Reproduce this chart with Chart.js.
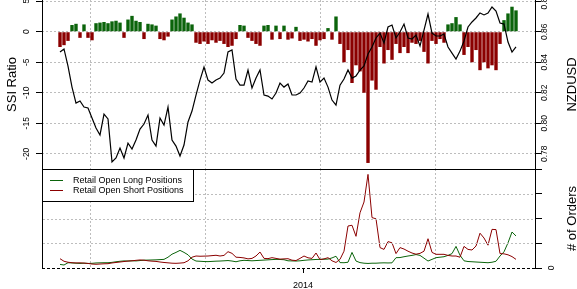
<!DOCTYPE html>
<html>
<head>
<meta charset="utf-8">
<script src="https://cdn.jsdelivr.net/npm/chart.js@4.4.1/dist/chart.umd.min.js"></script>
<style>
  html, body { margin: 0; padding: 0; background: #fff; }
  #wrap { position: relative; width: 577px; height: 289px; }
  #top { position: absolute; left: 0; top: 0; }
  #bottom { position: absolute; left: 0; top: 169px; }
</style>
</head>
<body>
<div id="wrap">
  <canvas id="top" width="577" height="170"></canvas>
  <canvas id="bottom" width="577" height="120"></canvas>
</div>
<script>
// --- DATA (one value per sample) ---
const ssiRatio = [
  -2.5, -2.2, -1.5, 1.1, 1.3, -1.0, 1.2, -1.0, -1.4, 1.4,
  1.5, 1.6, 1.4, 1.7, 1.8, 1.5, -1.0, 2.0, 2.6, 1.8,
  1.6, -1.2, 1.3, 1.2, 1.0, -1.2, -1.4, -0.8, 2.0, 2.5,
  3.0, 2.3, 1.5, 1.2, -1.8, -2.0, -1.6, -2.0, -1.4, -1.8,
  -1.5, -2.0, -2.5, -2.3, -1.2, 1.1, 1.0, -1.0, -1.5, -2.0,
  -2.3, 1.0, 1.1, -1.3, 1.0, -1.2, 1.0, -1.3, -1.1, 0.8,
  -1.5, -1.3, -1.6, -1.2, -2.3, -1.4, -1.2, 0.6, -1.3, 2.5,
  -2.0, -5.0, -3.0, -8.4, -5.5, -6.5, -10.0, -21.5, -8.0, -9.5,
  -2.5, -5.2, -3.0, -4.6, -2.0, -3.5, -2.5, -3.5, -1.8, -2.0,
  -1.5, -3.3, -5.2, -1.5, -2.0, -1.2, -1.8, 1.2, 1.4, 2.4,
  1.2, -3.8, -2.5, -5.0, -3.0, -6.3, -5.0, -6.0, -5.5, -6.3,
  -2.0, 1.9, 3.0, 4.1, 3.5
];
const nzdusd = [
  0.8467, 0.8487, 0.8375, 0.8237, 0.8132, 0.8146, 0.8106, 0.8100, 0.8034, 0.7969,
  0.7923, 0.8060, 0.8028, 0.7746, 0.7772, 0.7837, 0.7772, 0.7870, 0.7831, 0.7890,
  0.7962, 0.7995, 0.8054, 0.7890, 0.7850, 0.8034, 0.7988, 0.8106, 0.7890, 0.7850,
  0.7785, 0.7857, 0.8008, 0.8080, 0.8185, 0.8283, 0.8369, 0.8283, 0.8264, 0.8283,
  0.8296, 0.8329, 0.8467, 0.8480, 0.8290, 0.8250, 0.8250, 0.8349, 0.8231, 0.8296,
  0.8349, 0.8185, 0.8178, 0.8159, 0.8198, 0.8264, 0.8237, 0.8257, 0.8185, 0.8185,
  0.8198, 0.8231, 0.8277, 0.8270, 0.8369, 0.8270, 0.8296, 0.8237, 0.8152, 0.8119,
  0.8250, 0.8290, 0.8349, 0.8296, 0.8310, 0.8349, 0.8375, 0.8454, 0.8500, 0.8559,
  0.8591, 0.8526, 0.8631, 0.8644, 0.8559, 0.8598, 0.8650, 0.8559, 0.8552, 0.8578,
  0.8506, 0.8611, 0.8716, 0.8591, 0.8572, 0.8572, 0.8585, 0.8500, 0.8460, 0.8421,
  0.8473, 0.8539, 0.8631, 0.8664, 0.8690, 0.8723, 0.8710, 0.8723, 0.8762, 0.8736,
  0.8657, 0.8650, 0.8532, 0.8467, 0.8500
];
const longOrders = [
  300, 250, 440, 420, 400, 380, 400, 380, 390, 420,
  430, 440, 440, 470, 520, 560, 590, 580, 600, 590,
  620, 650, 660, 670, 680, 700, 720, 900, 1150, 1300,
  1470, 1300, 1100, 750, 580, 560, 540, 530, 550, 570,
  580, 600, 620, 580, 520, 600, 640, 620, 600, 620,
  640, 660, 680, 700, 720, 710, 690, 600, 590, 580,
  600, 640, 670, 690, 710, 720, 730, 740, 840, 980,
  450, 440, 480, 1300, 580, 450, 400, 380, 400, 400,
  420, 430, 420, 430, 860, 870, 940, 1000, 1050, 1120,
  1050, 820, 580, 720, 860, 900, 940, 1050, 1200, 1800,
  1060, 600, 540, 520, 500, 480, 460, 440, 480, 560,
  1000, 1350, 2100, 3000, 2670
];
const shortOrders = [
  775, 560, 480, 440, 420, 430, 410, 380, 330, 310,
  330, 350, 360, 420, 460, 500, 540, 580, 600, 640,
  670, 650, 600, 570, 550, 500, 460, 430, 400, 390,
  410, 440, 600, 900, 1000, 980, 990, 1000, 1030, 1060,
  1000, 1050, 1360, 1220, 900, 880, 840, 760, 800, 1000,
  1330, 800, 780, 860, 800, 740, 760, 775, 650, 620,
  800, 1000, 850, 800, 1250, 700, 760, 860, 600, 460,
  720, 1400, 3500, 3560, 2640, 4600, 5500, 7800, 4200, 4100,
  1700, 1550, 2200, 2100, 1200, 1700, 1580, 1400, 1250, 1150,
  1220, 1400, 2440, 1300, 1140, 1140, 1140, 1050, 1000, 1000,
  900, 1800, 1550, 1500, 1830, 2900, 2500, 1900, 3220, 3200,
  1200, 1180, 1100, 950, 720
];
const seriesNames = ['Retail Open Long Positions', 'Retail Open Short Positions'];
const yearLabel = '2014';
const orderLabels = ['0', '2000', '6000'];

// --- AXES / STYLE ---
const idx = ssiRatio.map((_, i) => i);
const X_MIN = -4.5, X_MAX = 118.75;
const yearAt = 60.75;
const gridAt = [7.5, 36.25, 65, 93.75];
const leftOrderTicks = [2000, 4000];
const GREEN = '#0b640b', RED = '#8b0000', GRID = '#bdbdbd';
const NONE = 'rgba(0,0,0,0)';
const FONT = '"Liberation Sans", Arial, sans-serif';

function vText(ctx, text, x, y, size) {
  ctx.save();
  ctx.translate(x, y);
  ctx.rotate(-Math.PI / 2);
  ctx.font = size + 'px ' + FONT;
  ctx.textAlign = 'center';
  ctx.textBaseline = 'middle';
  ctx.fillStyle = '#000';
  ctx.fillText(text, 0, 0);
  ctx.restore();
}
function line(ctx, x1, y1, x2, y2) {
  ctx.beginPath(); ctx.moveTo(x1, y1); ctx.lineTo(x2, y2); ctx.stroke();
}

// --- PANNEAU DU HAUT ---
const topDecor = {
  id: 'topDecor',
  afterDraw(chart) {
    const { ctx, chartArea: a, scales } = chart;
    ctx.save();
    ctx.strokeStyle = '#000'; ctx.lineWidth = 1;
    line(ctx, a.left + 0.5, a.top, a.left + 0.5, a.bottom + 1);
    line(ctx, a.right + 0.5, a.top, a.right + 0.5, a.bottom + 1);
    line(ctx, a.left, a.bottom + 0.5, a.right + 1, a.bottom + 0.5);
    ctx.restore();
    scales.y.ticks.forEach(t => vText(ctx, String(t.value), 27, scales.y.getPixelForValue(t.value), 8.5));
    scales.yR.ticks.forEach(t => vText(ctx, t.value.toFixed(2), 545, scales.yR.getPixelForValue(t.value), 8.5));
    const mid = (a.top + a.bottom) / 2;
    vText(ctx, 'SSI Ratio', 12, mid, 13);
    vText(ctx, 'NZDUSD', 572, mid, 13);
  }
};

new Chart(document.getElementById('top'), {
  type: 'line',
  data: {
    labels: idx,
    datasets: [
      { type: 'line', data: nzdusd, yAxisID: 'yR', borderColor: '#000', borderWidth: 1.2,
        pointRadius: 0, tension: 0, order: 0 },
      { type: 'bar', data: ssiRatio, yAxisID: 'y',
        backgroundColor: ssiRatio.map(v => v >= 0 ? GREEN : RED),
        barPercentage: 0.85, categoryPercentage: 1, order: 1 }
    ]
  },
  options: {
    responsive: false, animation: false, events: [],
    layout: { padding: 0 },
    plugins: { legend: { display: false }, tooltip: { enabled: false } },
    scales: {
      x: { type: 'linear', min: X_MIN, max: X_MAX, offset: false,
        afterBuildTicks: s => { s.ticks = gridAt.map(v => ({ value: v })); },
        ticks: { display: false },
        grid: { color: GRID, drawTicks: false, offset: false },
        border: { display: false, dash: [2, 2] },
        afterFit: s => { s.height = 1; } },
      y: { position: 'left', min: -22.49, max: 5.2,
        ticks: { stepSize: 5, includeBounds: false, display: false },
        grid: { color: GRID, tickColor: '#000', tickLength: 6 },
        border: { display: false, dash: [2, 2] },
        afterFit: s => { s.width = 42; } },
      yR: { position: 'right', min: 0.77, max: 0.8808,
        ticks: { stepSize: 0.02, includeBounds: false, display: false },
        grid: { drawOnChartArea: false, tickColor: '#000', tickLength: 6 },
        border: { display: false },
        afterFit: s => { s.width = 42; } }
    }
  },
  plugins: [topDecor]
});

// --- PANNEAU DU BAS ---
const bottomDecor = {
  id: 'bottomDecor',
  afterDraw(chart) {
    const { ctx, chartArea: a, scales } = chart;
    const ds = chart.data.datasets;
    ctx.save();
    // horizontal dotted grid from the order scale
    ctx.strokeStyle = GRID; ctx.lineWidth = 1; ctx.setLineDash([2, 2]);
    scales.yR.ticks.forEach(t => {
      if (t.value <= 0) return;
      const y = Math.round(scales.yR.getPixelForValue(t.value)) + 0.5;
      line(ctx, a.left + 1, y, a.right, y);
    });
    ctx.setLineDash([]);
    // legend box
    ctx.fillStyle = '#fff';
    ctx.fillRect(a.left, a.top, 151, 32);
    ctx.strokeStyle = '#000';
    ctx.strokeRect(a.left + 0.5, a.top + 0.5, 151, 32);
    ctx.font = '9px ' + FONT;
    ctx.textBaseline = 'middle';
    ds.forEach((d, i) => {
      const y = a.top + 11.5 + i * 10;
      ctx.strokeStyle = d.borderColor;
      line(ctx, a.left + 8, y, a.left + 21, y);
      ctx.fillStyle = '#000';
      ctx.fillText(d.label, a.left + 31, y);
    });
    // frame
    ctx.strokeStyle = '#000';
    line(ctx, a.left + 0.5, a.top, a.left + 0.5, a.bottom);
    line(ctx, a.right + 0.5, a.top, a.right + 0.5, a.bottom);
    line(ctx, a.left, a.top + 0.5, a.right + 1, a.top + 0.5);
    ctx.setLineDash([3, 2]);
    line(ctx, a.left, a.bottom + 0.5, a.right + 1, a.bottom + 0.5);
    ctx.restore();
    scales.yR.ticks.forEach(t => {
      const txt = String(t.value);
      if (orderLabels.includes(txt)) vText(ctx, txt, 552, scales.yR.getPixelForValue(t.value), 8.5);
    });
    vText(ctx, '# of Orders', 572, (a.top + a.bottom) / 2, 13);
  }
};

const isLeftTick = c => c.tick && leftOrderTicks.includes(c.tick.value);

new Chart(document.getElementById('bottom'), {
  type: 'line',
  data: {
    labels: idx,
    datasets: [
      { label: seriesNames[0], data: longOrders, yAxisID: 'yR', borderColor: GREEN,
        borderWidth: 1, pointRadius: 0, tension: 0, order: 1 },
      { label: seriesNames[1], data: shortOrders, yAxisID: 'yR', borderColor: RED,
        borderWidth: 1, pointRadius: 0, tension: 0, order: 0 }
    ]
  },
  options: {
    responsive: false, animation: false, events: [],
    layout: { padding: 0 },
    plugins: { legend: { display: false }, tooltip: { enabled: false } },
    scales: {
      x: { type: 'linear', min: X_MIN, max: X_MAX, offset: false,
        afterBuildTicks: s => { s.ticks = gridAt.concat([yearAt]).sort((p, q) => p - q).map(v => ({ value: v })); },
        ticks: { autoSkip: false, maxRotation: 0, padding: 7, color: '#000',
          font: { family: FONT, size: 9 },
          callback: v => v === yearAt ? yearLabel : '' },
        grid: { offset: false, tickLength: 5,
          color: c => c.tick && c.tick.value === yearAt ? NONE : GRID,
          tickColor: c => c.tick && c.tick.value === yearAt ? '#000' : NONE },
        border: { display: false, dash: [2, 2] },
        afterFit: s => { s.height = 21; } },
      yL: { position: 'left', min: 0, max: 8250,
        ticks: { stepSize: 2000, includeBounds: false, display: false },
        grid: { drawOnChartArea: false,
          tickColor: c => isLeftTick(c) ? '#000' : NONE, tickLength: 6 },
        border: { display: false },
        afterFit: s => { s.width = 42; } },
      yR: { position: 'right', min: 0, max: 8250,
        ticks: { stepSize: 2000, includeBounds: false, display: false },
        grid: { drawOnChartArea: false, tickColor: '#000', tickLength: 7 },
        border: { display: false },
        afterFit: s => { s.width = 42; } }
    }
  },
  plugins: [bottomDecor]
});
</script>
</body>
</html>
